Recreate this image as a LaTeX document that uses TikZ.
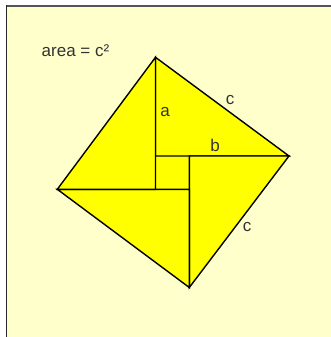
\documentclass[tikz,border=0pt]{standalone}
\usepackage{fontspec}
\setmainfont{Liberation Sans}
\definecolor{bgyellow}{HTML}{FFFFCC}
\definecolor{triyellow}{HTML}{FFFF00}
\definecolor{framegray}{HTML}{555555}
\definecolor{txtgray}{HTML}{333333}
\begin{document}
\begin{tikzpicture}[x=1pt,y=-1pt,
  tri/.style={fill=triyellow,draw=black,line width=1.4pt,line join=miter},
  lbl/.style={anchor=base,inner sep=0pt,text=txtgray,font=\fontsize{17}{19}\selectfont}]
\useasboundingbox (0,0) rectangle (331,337);
\fill[white] (0,0) rectangle (331,337);
\fill[bgyellow] (6.5,6) rectangle (331,337);
\draw[framegray,line width=1.2pt] (6.5,6) -- (331,6);
\draw[black!85,line width=1.6pt] (6.5,5.4) -- (6.5,337);
% vertices
\coordinate (T) at (155.5,57.3);
\coordinate (R) at (289,156);
\coordinate (B) at (189.3,287.5);
\coordinate (L) at (57.3,189.3);
\coordinate (I1) at (155.5,156);
\coordinate (I2) at (189.3,156);
\coordinate (I3) at (189.3,189.3);
\coordinate (I4) at (155.5,189.3);
\fill[triyellow] (I1) -- (I2) -- (I3) -- (I4) -- cycle;
\draw[tri] (T) -- (I1) -- (R) -- cycle;
\draw[tri] (R) -- (I2) -- (B) -- cycle;
\draw[tri] (B) -- (I3) -- (L) -- cycle;
\draw[tri] (L) -- (I4) -- (T) -- cycle;
\node[lbl,anchor=base west] (area) at (41.5,56.5) {area = c²};
\node[lbl] (la) at (165,116.7) {a};
\node[lbl] (lc1) at (230,104.3) {c};
\node[lbl] (lb) at (215,151.5) {b};
\node[lbl] (lc2) at (247,231) {c};
\end{tikzpicture}
\end{document}
